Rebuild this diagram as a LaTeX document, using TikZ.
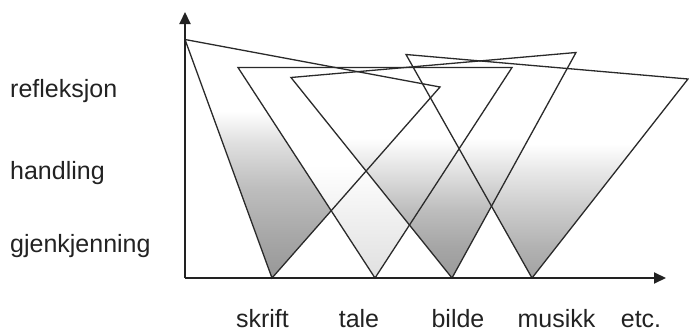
\documentclass[tikz,border=0pt]{standalone}
\usepackage{fontspec}
\setmainfont{Liberation Sans}
\usetikzlibrary{arrows.meta}

\definecolor{edge}{HTML}{2A2A2A}
\definecolor{axis}{HTML}{222222}
\definecolor{labeltext}{HTML}{222222}

% grey ramps for the four triangles (bottom -> top)
\definecolor{skA}{HTML}{979797}
\definecolor{skB}{HTML}{A8A8A8}
\definecolor{skC}{HTML}{BEBEBE}
\definecolor{skD}{HTML}{DEDEDE}
\definecolor{taA}{HTML}{E0E0E0}
\definecolor{taB}{HTML}{EEEEEE}
\definecolor{biA}{HTML}{9A9A9A}
\definecolor{biB}{HTML}{A6A6A6}
\definecolor{biC}{HTML}{BDBDBD}
\definecolor{biD}{HTML}{E2E2E2}
\definecolor{muA}{HTML}{A2A2A2}
\definecolor{muB}{HTML}{B2B2B2}
\definecolor{muC}{HTML}{CDCDCD}
\definecolor{muD}{HTML}{E8E8E8}

\pgfdeclareverticalshading{rampskrift}{100bp}{color(0bp)=(skA); color(25bp)=(skA); color(34bp)=(skB); color(44bp)=(skC); color(53bp)=(skD); color(60bp)=(white); color(100bp)=(white)}
\pgfdeclareverticalshading{ramptale}{100bp}{color(0bp)=(taA); color(25bp)=(taA); color(38bp)=(taB); color(52bp)=(white); color(100bp)=(white)}
\pgfdeclareverticalshading{rampbilde}{100bp}{color(0bp)=(biA); color(25bp)=(biA); color(32bp)=(biB); color(40bp)=(biC); color(49bp)=(biD); color(56bp)=(white); color(100bp)=(white)}
\pgfdeclareverticalshading{rampmusikk}{100bp}{color(0bp)=(muA); color(25bp)=(muA); color(32bp)=(muB); color(41bp)=(muC); color(49bp)=(muD); color(55bp)=(white); color(100bp)=(white)}

\tikzset{
  tri/.style={draw=edge, line width=1.3pt, line join=miter},
  axisline/.style={draw=axis, line width=2pt, -{Triangle[length=12pt,width=11pt]}},
  lbl/.style={inner sep=0pt, text=labeltext, font=\fontsize{25}{30}\selectfont},
}

\begin{document}
\begin{tikzpicture}[x=1pt, y=-1pt]
\useasboundingbox (0,0) rectangle (689,332);

% triangle corners
\coordinate (s1) at (185,39.5);  \coordinate (s2) at (440,87);   \coordinate (s3) at (272,278);
\coordinate (t1) at (238,67.5);  \coordinate (t2) at (512,67.5); \coordinate (t3) at (375,278);
\coordinate (b1) at (291,77.5);  \coordinate (b2) at (576,52.5); \coordinate (b3) at (452,278);
\coordinate (m1) at (406,54.5);  \coordinate (m2) at (688,79);   \coordinate (m3) at (532,278);

% fills, back to front
\shade[shading=rampskrift] (s1) -- (s2) -- (s3) -- cycle;
\shade[shading=ramptale]   (t1) -- (t2) -- (t3) -- cycle;
\shade[shading=rampmusikk] (m1) -- (m2) -- (m3) -- cycle;
\shade[shading=rampbilde]  (b1) -- (b2) -- (b3) -- cycle;

% outlines on top
\draw[tri] (s1) -- (s2) -- (s3) -- cycle;
\draw[tri] (t1) -- (t2) -- (t3) -- cycle;
\draw[tri] (b1) -- (b2) -- (b3) -- cycle;
\draw[tri] (m1) -- (m2) -- (m3) -- cycle;

% axes
\coordinate (origin) at (185,278);
\coordinate (ytip) at (185,12);
\coordinate (xtip) at (666,278);
\draw[axisline] (origin) -- (ytip);
\draw[axisline] (origin) -- (xtip);

% level labels
\node[lbl, anchor=base west] (refl) at (10,97.5)  {refleksjon};
\node[lbl, anchor=base west] (hand) at (10,179)   {handling};
\node[lbl, anchor=base west] (gjen) at (10,252.5) {gjenkjenning};

% medium labels
\node[lbl, anchor=base] (skrift) at (262.5,327) {skrift};
\node[lbl, anchor=base] (tale)   at (359,327)   {tale};
\node[lbl, anchor=base] (bilde)  at (458,327)   {bilde};
\node[lbl, anchor=base] (musikk) at (556.5,327) {musikk};
\node[lbl, anchor=base] (etc)    at (641,327)   {etc.};
\end{tikzpicture}
\end{document}
